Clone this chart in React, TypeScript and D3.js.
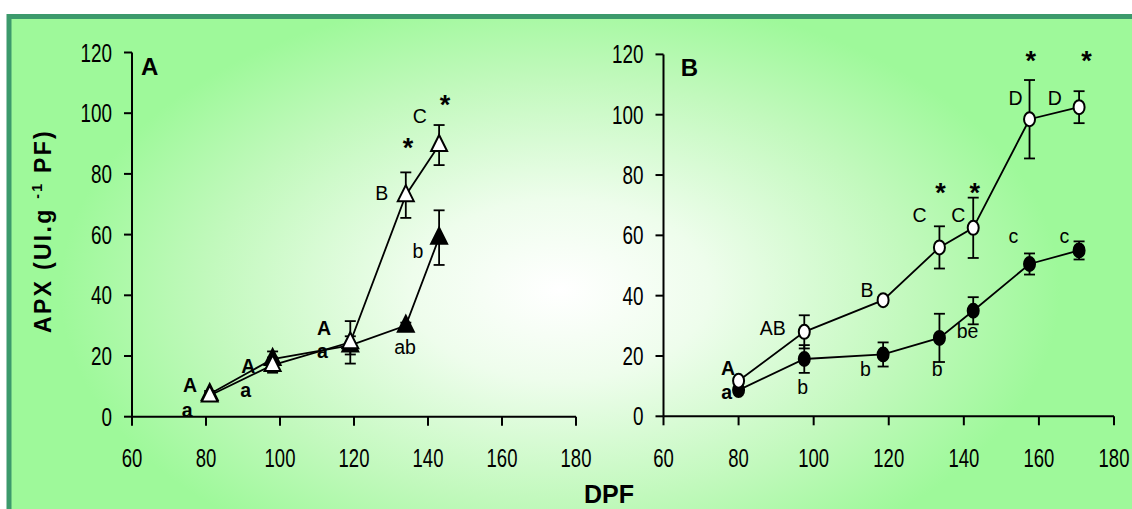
import React, { useEffect, useRef } from "react";
import * as d3 from "d3";

// panel A (triangles)
const dpfA = [81, 98, 119, 134, 143];
const openA = [7, 17, 24.5, 73, 89.5];
const openAErr = [1, 2.5, 7, 7.5, 6.6];
const filledA = [7.5, 19, 23.5, 30, 59];
const filledAErr = [1, 2.5, 3, 1, 9];

// panel B (circles)
const dpfB = [80, 97.5, 118.5, 133.5, 142.5, 157.5, 170.7];
const openB = [11.8, 28, 38.5, 56, 62.5, 98.5, 102.5];
const openBErr = [0, 5.5, 1, 7, 10, 13, 5.3];
const filledB = [8.7, 19, 20.5, 26, 35, 50.5, 55];
const filledBErr = [1, 4.6, 4, 8, 4.5, 3.5, 3];

const xTicks = [60, 80, 100, 120, 140, 160, 180];
const yTicks = [0, 20, 40, 60, 80, 100, 120];

// letter annotations: [text, x, y, bold]
const labelsA = [
  ["A", 75.7, 8.2, true], ["a", 74.9, 0, true],
  ["A", 91.4, 14.5, true], ["a", 90.7, 6.6, true],
  ["A", 111.9, 26.9, true], ["a", 111.5, 19.2, true],
  ["ab", 133.8, 20.7, false], ["b", 137.3, 52.2, false],
  ["B", 127.5, 71.4, false], ["C", 137.8, 96.7, false],
];
const starsA = [[134.6, 85.6], [144.6, 99.6]];

const labelsB = [
  ["A", 77.2, 13.7, true], ["a", 76.8, 5.6, true],
  ["AB", 89.1, 26.8, false], ["B", 114.2, 39.6, false],
  ["b", 97.1, 7.3, false], ["b", 113.8, 13.5, false],
  ["b", 132.9, 13.5, false], ["be", 141, 26.1, false],
  ["C", 128.2, 64.3, false], ["C", 138.5, 64.3, false],
  ["D", 153.8, 103.1, false], ["D", 164.2, 103.1, false],
  ["c", 153.2, 57.5, false], ["c", 166.8, 57.5, false],
];
const starsB = [[133.8, 71.2], [142.9, 71.2], [157.8, 114.8], [172.7, 114.8]];

const FONT = "Liberation Sans, Arial, sans-serif";

export default function App() {
  const ref = useRef(null);

  useEffect(() => {
    const svg = d3.select(ref.current);
    svg.selectAll("*").remove();

    const defs = svg.append("defs");
    const grad = defs.append("radialGradient")
      .attr("id", "bg")
      .attr("gradientUnits", "userSpaceOnUse")
      .attr("cx", 560).attr("cy", 290).attr("r", 500)
      .attr("gradientTransform", "translate(560,290) scale(1,0.6) translate(-560,-290)");
    grad.append("stop").attr("offset", 0).attr("stop-color", "#ffffff");
    grad.append("stop").attr("offset", 0.3).attr("stop-color", "#eefdec");
    grad.append("stop").attr("offset", 0.7).attr("stop-color", "#c2f9bd");
    grad.append("stop").attr("offset", 1).attr("stop-color", "#9ef99a");

    svg.append("rect").attr("width", 1132).attr("height", 509).attr("fill", "#fff");
    svg.append("rect")
      .attr("x", 9).attr("y", 16.5)
      .attr("width", 1140).attr("height", 520)
      .attr("fill", "url(#bg)")
      .attr("stroke", "#3c9a6c").attr("stroke-width", 5);

    const tri = "M0,-10L8,6L-8,6Z";

    const drawPanel = (cfg) => {
      const x = d3.scaleLinear().domain([60, 180]).range(cfg.xr);
      const y = d3.scaleLinear().domain([0, 120]).range(cfg.yr);
      const g = svg.append("g");

      // axes
      g.append("line").attr("x1", x(60)).attr("x2", x(60)).attr("y1", y(0)).attr("y2", y(120))
        .attr("stroke", "#000").attr("stroke-width", 2);
      g.append("line").attr("x1", x(60)).attr("x2", x(180)).attr("y1", y(0)).attr("y2", y(0))
        .attr("stroke", "#000").attr("stroke-width", 2);
      yTicks.forEach(t => {
        g.append("line").attr("x1", x(60) - 8).attr("x2", x(60)).attr("y1", y(t)).attr("y2", y(t))
          .attr("stroke", "#000").attr("stroke-width", 2);
        const s = String(t);
        g.append("text").attr("x", x(60) - 20).attr("y", y(t) + 9)
          .attr("text-anchor", "end").attr("font-family", FONT).attr("font-size", 25)
          .attr("textLength", s.length * 10.5).attr("lengthAdjust", "spacingAndGlyphs")
          .text(s);
      });
      xTicks.forEach(t => {
        g.append("line").attr("x1", x(t)).attr("x2", x(t)).attr("y1", y(0)).attr("y2", y(0) + 9)
          .attr("stroke", "#000").attr("stroke-width", 2);
        const s = String(t);
        g.append("text").attr("x", x(t)).attr("y", 467)
          .attr("text-anchor", "middle").attr("font-family", FONT).attr("font-size", 25)
          .attr("textLength", s.length * 10.3).attr("lengthAdjust", "spacingAndGlyphs")
          .text(s);
      });

      g.append("text").attr("x", x(cfg.tag[1])).attr("y", y(cfg.tag[2]))
        .attr("font-family", FONT).attr("font-size", 24).attr("font-weight", "bold")
        .text(cfg.tag[0]);

      const line = d3.line().x(d => x(d[0])).y(d => y(d[1]));

      cfg.series.forEach(s => {
        const pts = cfg.dpf.map((d, i) => [d, s.vals[i], s.err[i]]);
        // error bars
        pts.filter(p => p[2] > 0).forEach(p => {
          g.append("line").attr("x1", x(p[0])).attr("x2", x(p[0]))
            .attr("y1", y(p[1] - p[2])).attr("y2", y(p[1] + p[2]))
            .attr("stroke", "#000").attr("stroke-width", 1.8);
          [p[1] - p[2], p[1] + p[2]].forEach(v => {
            g.append("line").attr("x1", x(p[0]) - 5.5).attr("x2", x(p[0]) + 5.5)
              .attr("y1", y(v)).attr("y2", y(v))
              .attr("stroke", "#000").attr("stroke-width", 1.8);
          });
        });
        g.append("path").attr("d", line(pts)).attr("fill", "none")
          .attr("stroke", "#000").attr("stroke-width", 1.8);
        pts.forEach(p => {
          if (cfg.shape === "tri") {
            g.append("path").attr("d", tri)
              .attr("transform", `translate(${x(p[0])},${y(p[1])})`)
              .attr("fill", s.fill).attr("stroke", "#000").attr("stroke-width", 2);
          } else {
            g.append("ellipse").attr("cx", x(p[0])).attr("cy", y(p[1]))
              .attr("rx", 5.5).attr("ry", 7)
              .attr("fill", s.fill).attr("stroke", "#000").attr("stroke-width", 2);
          }
        });
      });

      cfg.labels.forEach(l => {
        g.append("text").attr("x", x(l[1])).attr("y", y(l[2]))
          .attr("text-anchor", "middle").attr("font-family", FONT)
          .attr("font-size", 19.5).attr("font-weight", l[3] ? "bold" : "normal")
          .text(l[0]);
      });
      cfg.stars.forEach(st => {
        g.append("text").attr("x", x(st[0])).attr("y", y(st[1]))
          .attr("text-anchor", "middle").attr("font-family", FONT)
          .attr("font-size", 27).attr("font-weight", "bold")
          .text("*");
      });
    };

    drawPanel({
      xr: [132, 576], yr: [416.7, 52.5], dpf: dpfA, shape: "tri",
      tag: ["A", 62.4, 112.5],
      series: [
        { vals: filledA, err: filledAErr, fill: "#000" },
        { vals: openA, err: openAErr, fill: "#fff" },
      ],
      labels: labelsA, stars: starsA,
    });
    drawPanel({
      xr: [663.5, 1114], yr: [416.3, 54.4], dpf: dpfB, shape: "circle",
      tag: ["B", 64.6, 112.9],
      series: [
        { vals: filledB, err: filledBErr, fill: "#000" },
        { vals: openB, err: openBErr, fill: "#fff" },
      ],
      labels: labelsB, stars: starsB,
    });

    // axis titles
    const yt = svg.append("text")
      .attr("transform", "translate(51,231) rotate(-90)")
      .attr("text-anchor", "middle").attr("font-family", FONT)
      .attr("font-size", 23).attr("font-weight", "bold")
      .attr("letter-spacing", 2.3);
    yt.append("tspan").text("APX (UI.g ");
    yt.append("tspan").attr("dy", -9).attr("font-size", 14).text("-1");
    yt.append("tspan").attr("dy", 9).text(" PF)");

    svg.append("text").attr("x", 609).attr("y", 503)
      .attr("text-anchor", "middle").attr("font-family", FONT)
      .attr("font-size", 25).attr("font-weight", "bold")
      .text("DPF");
  }, []);

  return (
    <div style={{ position: "absolute", left: 0, top: 0 }}>
      <svg ref={ref} width={1132} height={509} style={{ display: "block" }} />
    </div>
  );
}
